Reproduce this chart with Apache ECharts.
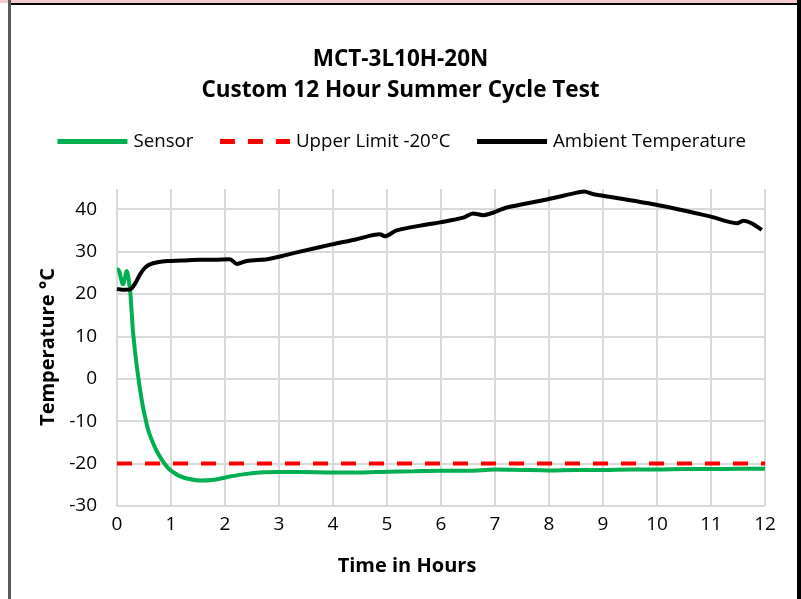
<!DOCTYPE html>
<html>
<head>
<meta charset="utf-8">
<script src="https://cdn.jsdelivr.net/npm/echarts@6/dist/echarts.min.js"></script>
<style>
  html, body { margin: 0; padding: 0; background: #fff; }
  #chart { width: 801px; height: 599px; }
</style>
</head>
<body>
<div id="chart"></div>
<script>
// sensor readings (hours, °C)
var sensorHours = [0, 0.02, 0.11, 0.18, 0.24, 0.27, 0.30, 0.37, 0.46, 0.52, 0.58, 0.65, 0.73, 0.85, 0.95, 1.04, 1.15, 1.29, 1.54, 1.8, 2.03, 2.3, 2.65, 3.0, 3.4, 4, 4.5, 5, 5.5, 6, 6.5, 7, 7.5, 8, 8.5, 9, 9.5, 10, 10.5, 11, 11.5, 12];
var sensorTemps = [25.8, 25.8, 22.3, 25.4, 21, 16, 10.6, 2.6, -5.2, -9, -12.2, -14.6, -16.9, -19.5, -21.1, -22, -22.9, -23.5, -24, -23.8, -23.2, -22.6, -22.1, -22, -22, -22.1, -22.1, -21.9, -21.8, -21.7, -21.7, -21.4, -21.5, -21.6, -21.5, -21.5, -21.4, -21.4, -21.3, -21.3, -21.2, -21.2];

// ambient chamber temperature
var ambientHours = [0, 0.1, 0.24, 0.35, 0.43, 0.52, 0.61, 0.75, 0.93, 1.2, 1.54, 1.8, 2.09, 2.22, 2.4, 2.78, 3.0, 3.39, 3.98, 4.4, 4.87, 4.96, 5.18, 5.74, 5.98, 6.41, 6.59, 6.78, 7.22, 7.96, 8.52, 8.65, 8.81, 8.94, 9.96, 10.98, 11.48, 11.6, 11.75, 11.94];
var ambientTemps = [21.2, 21.0, 21.1, 22.8, 24.7, 26.2, 27, 27.5, 27.8, 27.9, 28.1, 28.1, 28.2, 27.1, 27.8, 28.2, 28.8, 30, 31.7, 32.8, 34.1, 33.6, 35, 36.4, 36.9, 38, 39, 38.6, 40.4, 42.3, 43.9, 44.2, 43.6, 43.3, 41.1, 38.3, 36.7, 37.3, 36.7, 35.1];

// upper limit line
var limitHours = [0, 12];
var limitTemps = [-20, -20];

var seriesNames = ['Sensor', 'Upper Limit -20°C', 'Ambient Temperature'];

function pairs(xs, ys) {
    return xs.map(function(x, i) { return [x, ys[i]]; });
}

var font = '"Open Sans", "Noto Sans", sans-serif';

var option = {
    animation: false,
    backgroundColor: '#fff',
    title: {
        text: 'MCT-3L10H-20N\nCustom 12 Hour Summer Cycle Test',
        left: 'center',
        top: 39,
        textStyle: {
            fontFamily: font,
            fontSize: 22.5,
            fontWeight: 'bold',
            color: '#000',
            lineHeight: 31
        }
    },
    legend: {
        top: 127,
        left: 'center',
        itemWidth: 70,
        itemHeight: 4,
        itemGap: 24,
        itemStyle: { opacity: 0 },
        lineStyle: { width: 5 },
        textStyle: { fontFamily: font, fontSize: 18.7, color: '#000', padding: [0, 0, 0, 1] },
        data: seriesNames
    },
    grid: {
        left: 117,
        right: 36,
        top: 188,
        bottom: 93
    },
    xAxis: {
        type: 'value',
        min: 0,
        max: 12,
        interval: 1,
        name: 'Time in Hours',
        nameLocation: 'middle',
        nameGap: 50,
        nameTextStyle: { fontFamily: font, fontSize: 20, fontWeight: 'bold', color: '#000', padding: [0, 68, 0, 0] },
        axisLine: { show: true, lineStyle: { color: '#d9d9d9', width: 2 } },
        axisTick: { show: false },
        axisLabel: { fontFamily: font, fontSize: 19, color: '#000', margin: 9 },
        splitLine: { show: true, lineStyle: { color: '#d9d9d9', width: 2 } }
    },
    yAxis: {
        type: 'value',
        min: -30,
        max: 45,
        interval: 10,
        name: 'Temperature °C',
        nameLocation: 'middle',
        nameGap: 58,
        nameTextStyle: { fontFamily: font, fontSize: 20, fontWeight: 'bold', color: '#000' },
        axisLine: { show: true, lineStyle: { color: '#d9d9d9', width: 2 } },
        axisTick: { show: false },
        axisLabel: { fontFamily: font, fontSize: 19, color: '#000', margin: 20, showMaxLabel: false },
        splitLine: { show: true, lineStyle: { color: '#d9d9d9', width: 2 } }
    },
    graphic: [
        // hide the 45 boundary split line
        { type: 'rect', shape: { x: 100, y: 186, width: 680, height: 3 }, style: { fill: '#fff' }, z: 1 },
        // sheet frame
        { type: 'rect', shape: { x: 0, y: 0, width: 801, height: 3 }, style: { fill: '#f6c9cc' }, z: 100 },
        { type: 'rect', shape: { x: 9, y: 3, width: 790, height: 2 }, style: { fill: '#000' }, z: 100 },
        { type: 'rect', shape: { x: 8, y: 0, width: 3, height: 599 }, style: { fill: '#595959' }, z: 100 },
        { type: 'rect', shape: { x: 797, y: 0, width: 4, height: 599 }, style: { fill: '#000' }, z: 100 }
    ],
    series: [{
        name: seriesNames[0],
        type: 'line',
        data: pairs(sensorHours, sensorTemps),
        smooth: 0.3,
        symbol: 'none',
        color: '#00b050',
        lineStyle: { color: '#00b050', width: 4 },
        z: 3
    }, {
        name: seriesNames[1],
        type: 'line',
        data: pairs(limitHours, limitTemps),
        symbol: 'none',
        color: '#ff0000',
        lineStyle: { color: '#ff0000', width: 4, type: [15, 13] },
        z: 4
    }, {
        name: seriesNames[2],
        type: 'line',
        data: pairs(ambientHours, ambientTemps),
        smooth: 0.3,
        symbol: 'none',
        color: '#000',
        lineStyle: { color: '#000', width: 4 },
        z: 5
    }]
};

echarts.init(document.getElementById('chart')).setOption(option);
</script>
</body>
</html>
